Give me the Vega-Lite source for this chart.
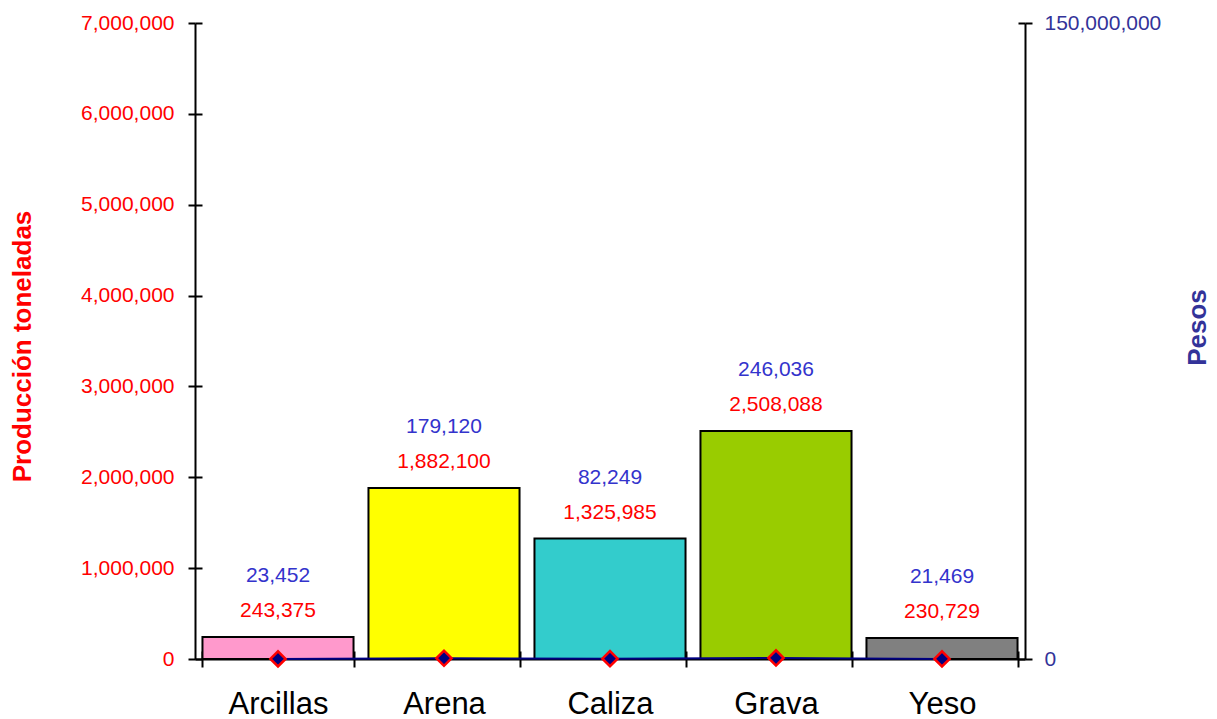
{
 "$schema": "https://vega.github.io/schema/vega-lite/v6.json",
 "width": 830, "height": 636,
 "autosize": {"type": "none"},
 "padding": {"left": 195, "top": 23, "right": 192, "bottom": 60},
 "background": "white",
 "config": {
  "font": "Liberation Sans",
  "view": {"stroke": null},
  "axis": {"grid": false, "domainColor": "black", "domainWidth": 2, "tickColor": "black", "tickWidth": 2, "labelFont": "Liberation Sans", "titleFont": "Liberation Sans"}
 },
 "data": {"values": [
  {"c": "Arcillas", "produccion": 243375, "pesos": 23452},
  {"c": "Arena", "produccion": 1882100, "pesos": 179120},
  {"c": "Caliza", "produccion": 1325985, "pesos": 82249},
  {"c": "Grava", "produccion": 2508088, "pesos": 246036},
  {"c": "Yeso", "produccion": 230729, "pesos": 21469}
 ]},
 "resolve": {"scale": {"y": "independent"}, "axis": {"x": "independent"}},
 "layer": [
  {
   "encoding": {
    "x": {"field": "c", "type": "nominal", "sort": null,
          "scale": {"paddingInner": 0.09, "paddingOuter": 0.045},
          "axis": {"orient": "bottom", "title": null, "tickBand": "extent", "tickSize": 8, "labelFontSize": 31, "labelColor": "black", "labelPadding": 22, "labelAngle": 0}},
    "y": {"field": "produccion", "type": "quantitative",
          "scale": {"domain": [0, 7000000], "nice": false},
          "axis": {"orient": "left", "values": [0, 1000000, 2000000, 3000000, 4000000, 5000000, 6000000, 7000000], "format": ",d", "tickSize": 7, "labelFontSize": 21, "labelColor": "#FF0000", "labelPadding": 14,
                   "title": "Producción toneladas", "titleColor": "#FF0000", "titleFontSize": 26, "titleFontWeight": "bold", "titleX": -173, "titleY": 323, "titleBaseline": "middle", "titleAngle": 270}}
   },
   "layer": [
    {"mark": {"type": "bar", "stroke": "black", "strokeWidth": 2},
     "encoding": {"color": {"field": "c", "type": "nominal", "legend": null,
       "scale": {"domain": ["Arcillas", "Arena", "Caliza", "Grava", "Yeso"], "range": ["#FF99CC", "#FFFF00", "#33CCCC", "#99CC00", "#808080"]}}}},
    {"mark": {"type": "text", "color": "#FF0000", "fontSize": 21, "dy": -26, "baseline": "middle"},
     "encoding": {"text": {"field": "produccion", "type": "quantitative", "format": ",d"}}},
    {"mark": {"type": "text", "color": "#3333CC", "fontSize": 21, "dy": -61, "baseline": "middle"},
     "encoding": {"text": {"field": "pesos", "type": "quantitative", "format": ",d"}}}
   ]
  },
  {
   "mark": {"type": "tick", "opacity": 0},
   "encoding": {
    "x": {"field": "c", "type": "nominal", "sort": null,
          "axis": {"orient": "bottom", "tickBand": "extent", "tickSize": -8, "labels": false, "domain": false, "title": null}},
    "y": {"field": "produccion", "type": "quantitative",
          "scale": {"domain": [0, 7000000], "nice": false},
          "axis": {"orient": "left", "values": [0, 1000000, 2000000, 3000000, 4000000, 5000000, 6000000, 7000000], "tickSize": -7, "labels": false, "domain": false, "title": null}}
   }
  },
  {
   "encoding": {
    "x": {"field": "c", "type": "nominal", "sort": null, "axis": null},
    "y": {"field": "pesos", "type": "quantitative",
          "scale": {"domain": [0, 150000000], "nice": false},
          "axis": {"orient": "right", "values": [0, 150000000], "format": ",d", "tickSize": 7, "labelFontSize": 21, "labelColor": "#333399", "labelPadding": 12,
                   "title": "Pesos", "titleColor": "#333399", "titleFontSize": 26, "titleFontWeight": "bold", "titleX": 172, "titleY": 304, "titleBaseline": "middle", "titleAngle": 270}}
   },
   "layer": [
    {"mark": {"type": "line", "color": "#000080", "strokeWidth": 2}},
    {"mark": {"type": "point", "shape": "diamond", "filled": true, "fill": "#000080", "stroke": "#FF0000", "strokeWidth": 2.5, "size": 230, "opacity": 1}}
   ]
  },
  {
   "mark": {"type": "tick", "opacity": 0},
   "encoding": {
    "x": {"field": "c", "type": "nominal", "sort": null, "axis": null},
    "y": {"field": "pesos", "type": "quantitative",
          "scale": {"domain": [0, 150000000], "nice": false},
          "axis": {"orient": "right", "values": [0, 150000000], "tickSize": -7, "labels": false, "domain": false, "title": null}}
   }
  }
 ]
}
